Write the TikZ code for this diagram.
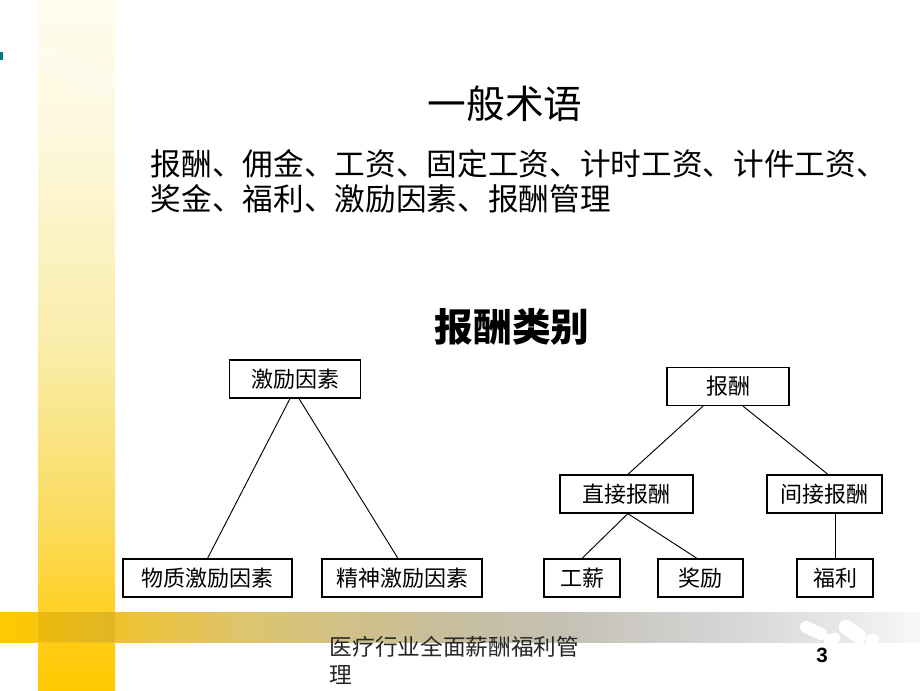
\documentclass[tikz,border=0pt]{standalone}
\usepackage{fontspec}
\newfontfamily\cjk{Noto Sans CJK SC}
\newfontfamily\numfont{Liberation Sans}
\definecolor{tealmark}{HTML}{007A7A}
\definecolor{goldA}{HTML}{FFC800}
\definecolor{goldB}{HTML}{FFCF20}
\definecolor{goldC}{HTML}{FADC60}
\definecolor{paleA}{HTML}{F9EDAA}
\definecolor{paleB}{HTML}{FDF8DC}
\definecolor{paleC}{HTML}{FFFCEE}
\definecolor{bandA}{HTML}{EFC22C}
\definecolor{bandB}{HTML}{DCC470}
\definecolor{bandC}{HTML}{C9BE98}
\definecolor{bandD}{HTML}{C4C0B4}
\definecolor{bandE}{HTML}{D4D4D4}
\definecolor{bandF}{HTML}{E8E8E8}
\definecolor{bandG}{HTML}{F8F8F8}
% the path covers 25bp--75bp of a shading
\pgfdeclareverticalshading{barshade}{100bp}{color(0bp)=(goldA); color(25bp)=(goldA); color(30bp)=(goldB);
  color(37.5bp)=(goldC); color(50bp)=(paleA); color(65bp)=(paleB); color(75bp)=(paleC); color(100bp)=(paleC)}
\pgfdeclarehorizontalshading{bandshade}{100bp}{color(0bp)=(goldA); color(25bp)=(goldA); color(31.25bp)=(bandA);
  color(38.5bp)=(bandB); color(48bp)=(bandC); color(55.5bp)=(bandD); color(64bp)=(bandE);
  color(71bp)=(bandF); color(75bp)=(bandG); color(100bp)=(bandG)}
\tikzset{
  box/.style={draw, line width=0.9pt, inner sep=0pt, minimum height=28.5pt,
    font=\cjk\fontsize{16.5}{18}\selectfont},
  edge/.style={line width=0.7pt}
}
\begin{document}
\begin{tikzpicture}[x=0.75pt,y=-0.75pt]
      \useasboundingbox (0,0) rectangle (920,690);
      % slide background
      \shade[shading=barshade] (38,0) rectangle (115,690);
      \fill[white, opacity=0.3] (38,66) -- (88,96) .. controls (98,101) and (108,99) .. (115,90) -- (115,72) -- (38,46) -- cycle;
      \fill[tealmark] (0,52) rectangle (3,60);
      \shade[shading=bandshade] (0,612) rectangle (920,642);
      \fill[black, opacity=0.06] (38,612) rectangle (115,642);
      \draw[white, line width=9pt, line cap=round] (806,627) -- (821,634);
      \draw[white, line width=8pt, line cap=round] (829,640) -- (835,638);
      \draw[white, line width=11pt, line cap=round] (846,627) -- (859,636);
      \draw[white, line width=8pt, line cap=round] (871,639) -- (874,639);
      % texts
      \node[font=\cjk\fontsize{29}{32}\selectfont] (terms) at (505,104) {一般术语};
      \node[anchor=west, align=left, font=\cjk\fontsize{23}{26.5}\selectfont] (termlist) at (146,181)
        {报酬、佣金、工资、固定工资、计时工资、计件工资、\\奖金、福利、激励因素、报酬管理};
      \node[font=\cjk\bfseries\fontsize{29}{32}\selectfont] (kinds) at (512,327) {报酬类别};
      % left tree
      \node[box, minimum width=98.25pt] (mot) at (295,379) {激励因素};
      \node[box, minimum width=126.75pt] (matl) at (207.5,578) {物质激励因素};
      \node[box, minimum width=120pt] (spir) at (402,578) {精神激励因素};
      \draw[edge] ([xshift=-3.75pt]mot.south) -- (matl.north);
      \draw[edge] ([xshift=3pt]mot.south) -- ([xshift=-3pt]spir.north);
      % right tree
      \node[box, minimum width=91.5pt] (pay) at (728,386.5) {报酬};
      \node[box, minimum width=99.75pt] (direct) at (626.5,494) {直接报酬};
      \node[box, minimum width=86.25pt] (indirect) at (824.5,494) {间接报酬};
      \node[box, minimum width=57pt] (wage) at (582,578) {工薪};
      \node[box, minimum width=63.75pt] (bonus) at (700.5,578) {奖励};
      \node[box, minimum width=57pt] (welfare) at (835,578) {福利};
      \draw[edge] ([xshift=-18.75pt]pay.south) -- ([xshift=1pt]direct.north);
      \draw[edge] ([xshift=11.25pt]pay.south) -- ([xshift=2.6pt]indirect.north);
      \draw[edge] ([xshift=1pt]direct.south) -- (wage.north);
      \draw[edge] ([xshift=1pt]direct.south) -- ([xshift=-2.6pt]bonus.north);
      \draw[edge] (welfare.north) -- (welfare.north |- indirect.south);
      % footer
      \node[anchor=north west, align=left, font=\cjk\fontsize{17}{21}\selectfont, text=black!85] (foot) at (325,631)
        {医疗行业全面薪酬福利管\\理};
      \node[font=\numfont\bfseries\fontsize{15.5}{18}\selectfont] (pgnum) at (822,655) {3};
\end{tikzpicture}
\end{document}
